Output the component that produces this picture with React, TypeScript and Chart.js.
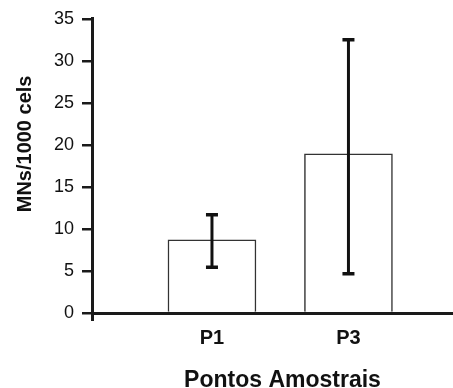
import React, { useEffect, useRef } from "react";
import { Chart, registerables } from "chart.js";

Chart.register(...registerables);

// ---- data ----
const categories = ["P1", "P3"];
const categoryPositions = [1, 2];
const means = [8.7, 18.95];
const errLow = [5.45, 4.67];
const errHigh = [11.69, 32.5];
const yTicksMax = 35;
const yTickStep = 5;

const X_MIN = 0.121;
const X_MAX = 2.766;

const FONT = "'Liberation Sans', Arial, Helvetica, sans-serif";
const INK = "#1a1a1a";

const errorBarPlugin = {
  id: "errorBars",
  afterDatasetsDraw(chart: any) {
    const meta = chart.getDatasetMeta(0);
    const yScale = chart.scales.y;
    const ctx = chart.ctx;
    ctx.save();
    ctx.strokeStyle = "#111";
    meta.data.forEach((bar: any, i: number) => {
      const x = bar.x;
      const yl = yScale.getPixelForValue(errLow[i]);
      const yh = yScale.getPixelForValue(errHigh[i]);
      ctx.lineWidth = 3;
      ctx.beginPath();
      ctx.moveTo(x, yl);
      ctx.lineTo(x, yh);
      ctx.stroke();
      ctx.lineWidth = 3.5;
      ctx.beginPath();
      ctx.moveTo(x - 6, yl);
      ctx.lineTo(x + 6, yl);
      ctx.moveTo(x - 6, yh);
      ctx.lineTo(x + 6, yh);
      ctx.stroke();
    });
    ctx.restore();
  },
};

// shifts where an axis title is centred, without touching the scale mapping
function shiftTitle(scale: any, adjust: (s: any) => void) {
  if (!scale || scale.__titleShifted) return;
  scale.__titleShifted = true;
  const orig = scale.drawTitle;
  scale.drawTitle = function (this: any) {
    const saved = { left: this.left, right: this.right, top: this.top, bottom: this.bottom };
    adjust(this);
    orig.call(this);
    Object.assign(this, saved);
  };
}

const titlePlacementPlugin = {
  id: "titlePlacement",
  afterLayout(chart: any) {
    shiftTitle(chart.scales.x, (s) => {
      s.right += 20;
    });
    shiftTitle(chart.scales.y, (s) => {
      s.bottom -= 44;
    });
  },
};

export default function App() {
  const ref = useRef<HTMLCanvasElement>(null);

  useEffect(() => {
    document.body.style.margin = "0";
    const canvas = ref.current;
    if (!canvas) return;
    const chart = new Chart(canvas, {
      type: "bar",
      data: {
        datasets: [
          {
            data: means.map((v, i) => ({ x: categoryPositions[i], y: v })),
            backgroundColor: "#ffffff",
            borderColor: "#333333",
            borderWidth: 1.5,
            barThickness: 88,
          } as any,
        ],
      },
      options: {
        animation: false,
        responsive: false,
        layout: { padding: { top: 17, right: 0, left: 0, bottom: 0 } },
        plugins: {
          legend: { display: false },
          tooltip: { enabled: false },
        },
        scales: {
          x: {
            type: "linear",
            min: X_MIN,
            max: X_MAX,
            offset: false,
            afterBuildTicks: (scale: any) => {
              scale.ticks = [{ value: X_MIN }, ...categoryPositions.map((v) => ({ value: v }))];
            },
            afterFit: (scale: any) => {
              scale.height = 75;
            },
            ticks: {
              autoSkip: false,
              maxRotation: 0,
              padding: 5,
              color: "#111",
              font: { family: FONT, size: 20, weight: "bold" },
              callback: (value: any) => {
                const idx = categoryPositions.indexOf(Number(value));
                return idx >= 0 ? categories[idx] : "";
              },
            },
            grid: {
              offset: false,
              drawOnChartArea: false,
              drawTicks: true,
              tickLength: 8,
              lineWidth: 3,
              color: (ctx: any) =>
                ctx.tick && ctx.tick.value === X_MIN ? INK : "rgba(0,0,0,0)",
            },
            border: { display: true, color: INK, width: 3 },
            title: {
              display: true,
              text: "Pontos Amostrais",
              color: "#111",
              font: { family: FONT, size: 23, weight: "bold", lineHeight: 0.8 },
              padding: { top: 0, bottom: -2 },
            },
          },
          y: {
            type: "linear",
            min: 0,
            max: yTicksMax,
            afterFit: (scale: any) => {
              scale.width = 92;
            },
            ticks: {
              stepSize: yTickStep,
              padding: 8,
              color: "#111",
              font: { family: FONT, size: 18 },
            },
            grid: {
              drawOnChartArea: false,
              drawTicks: true,
              tickLength: 10,
              lineWidth: 2.5,
              color: INK,
            },
            border: { display: true, color: INK, width: 3 },
            title: {
              display: true,
              text: "MNs/1000 cels",
              color: "#111",
              font: { family: FONT, size: 20, weight: "bold", lineHeight: 1.2 },
              padding: { top: 13, bottom: 0 },
            },
          },
        },
      },
      plugins: [errorBarPlugin, titlePlacementPlugin],
    });
    return () => chart.destroy();
  }, []);

  return (
    <div style={{ width: 453, height: 388 }}>
      <canvas ref={ref} width={453} height={388} style={{ display: "block" }} />
    </div>
  );
}
